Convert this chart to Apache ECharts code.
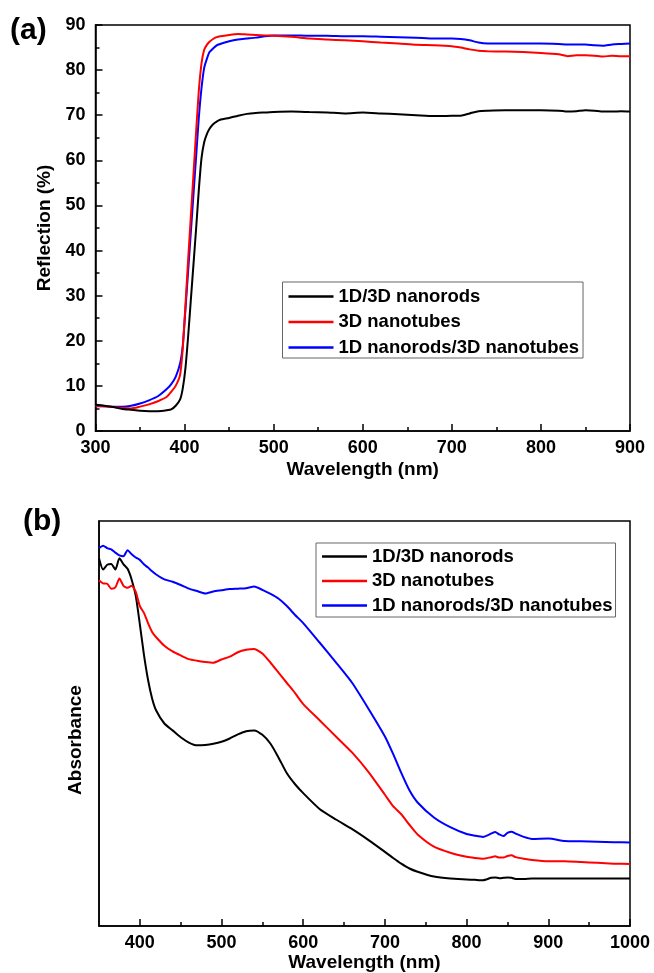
<!DOCTYPE html>
<html>
<head>
<meta charset="utf-8">
<script src="https://cdn.jsdelivr.net/npm/echarts@6/dist/echarts.min.js"></script>
<style>
html, body { margin: 0; padding: 0; background: #fff; }
#chart { width: 654px; height: 973px; }
</style>
</head>
<body>
<div id="chart"></div>
<script>
// ---------- (a) Reflection spectra ----------
const seriesNames = ['1D/3D nanorods', '3D nanotubes', '1D nanorods/3D nanotubes'];
const seriesColors = ['#000000', '#ff0000', '#0000ff'];

const reflWavelengths = [300,310,320,330,340,350,360,370,380,385,390,395,398,401,404,407,410,413,416,419,422,425,428,432,436,440,450,460,470,480,490,500,520,540,560,580,600,620,640,660,680,700,710,720,730,740,760,780,800,820,830,840,850,860,870,880,890,900];
const reflNanorods = [5.8,5.6,5.3,4.9,4.7,4.5,4.4,4.4,4.6,4.8,5.6,7.0,9.5,14,21,29,37,45,53.5,60.5,64,65.8,67,68,68.6,69,69.4,69.9,70.3,70.5,70.6,70.7,70.8,70.7,70.6,70.4,70.6,70.4,70.2,70.0,69.8,69.9,69.9,70.4,70.9,71.0,71.1,71.1,71.1,71.0,70.8,70.9,71.1,71.0,70.8,70.8,70.9,70.8];
const reflNanotubes = [5.6,5.5,5.3,5.1,5.0,5.4,5.9,6.6,7.6,8.7,10.0,12.5,18.5,28,38,47.5,57,66.5,75.5,81.5,84.5,85.6,86.3,86.9,87.3,87.5,87.8,88.0,87.9,87.8,87.7,87.6,87.4,87.0,86.8,86.6,86.4,86.1,85.9,85.6,85.5,85.3,85.0,84.6,84.3,84.2,84.1,84.0,83.8,83.5,83.1,83.3,83.3,83.2,83.0,83.2,83.1,83.1];
const reflHybrid = [5.5,5.5,5.4,5.4,5.6,6.1,6.8,7.7,9.3,10.4,12.0,15.0,19,27,35.5,44,52.5,61,69.5,76,80.5,82.5,84.0,84.8,85.5,85.8,86.4,86.8,87.0,87.2,87.5,87.7,87.7,87.6,87.6,87.5,87.5,87.4,87.3,87.2,87.0,87.0,86.9,86.6,86.1,85.9,85.9,85.9,85.9,85.8,85.7,85.7,85.7,85.5,85.4,85.7,85.8,85.9];

// ---------- (b) Absorbance spectra (arbitrary units) ----------
const absWavelengths = [350,355,360,365,370,375,380,385,390,395,400,405,410,415,420,430,440,450,460,470,480,490,500,510,520,530,540,550,560,570,580,590,600,620,640,660,680,700,710,720,730,740,760,780,800,810,820,830,835,840,845,850,855,860,870,880,900,920,940,960,980,1000];
const absNanorods = [90.8,88.0,89.2,89.4,88.0,90.8,89.3,88.2,85.5,81.5,74.5,67.0,60.8,56.2,53.2,50.0,48.3,46.6,45.3,44.6,44.7,45.0,45.5,46.3,47.3,48.1,48.3,47.2,45.0,41.5,37.7,35.0,32.8,28.9,26.3,23.9,21.2,18.3,16.8,15.4,14.2,13.4,12.2,11.7,11.5,11.4,11.3,11.9,12.0,11.8,11.9,12.0,11.9,11.6,11.6,11.7,11.7,11.7,11.7,11.7,11.7,11.7];
const absNanotubes = [85.4,84.6,84.5,83.3,83.6,85.8,84.0,83.5,84.0,82.5,79.0,77.3,74.8,72.6,71.3,69.2,67.8,66.8,65.9,65.5,65.2,65.0,65.8,66.5,67.6,68.2,68.4,67.3,65.0,62.5,60.0,57.5,54.8,50.8,46.8,42.8,38.0,32.4,29.6,27.6,25.0,22.6,19.6,18.1,17.1,16.8,16.6,17.0,17.2,16.9,16.9,17.3,17.5,17.0,16.6,16.3,16.0,16.0,15.8,15.6,15.4,15.3];
const absHybrid = [93.3,93.9,93.3,93.0,92.2,91.5,91.3,92.8,91.8,91.0,90.4,89.3,88.5,87.6,86.8,85.6,85.0,84.2,83.3,82.7,82.1,82.6,82.9,83.2,83.3,83.4,83.8,83.0,82.0,80.8,79.0,76.8,74.8,70.0,65.1,60.0,53.6,46.8,42.5,37.8,33.5,30.5,26.8,24.4,22.7,22.3,22.0,22.8,23.2,22.6,22.2,23.0,23.3,22.8,22.0,21.5,21.6,21.0,20.9,20.8,20.7,20.6];

// tick labels
const reflXTicks = [300,400,500,600,700,800,900];
const reflYTicks = [0,10,20,30,40,50,60,70,80,90];
const absXTicks = [400,500,600,700,800,900,1000];
const absXMinorTicks = [450,550,650,750,850,950];

const FONT = "'Liberation Sans', Arial, sans-serif";
const txt = (size) => ({ fontFamily: FONT, fontWeight: 'bold', fontSize: size, color: '#000' });
const plain = (v) => String(v);

function pairs(xs, ys) { return xs.map((x, i) => [x, ys[i]]); }

const reflSeries = [reflNanorods, reflNanotubes, reflHybrid];
const absSeries = [absNanorods, absNanotubes, absHybrid];

const series = [];
reflSeries.forEach((ys, i) => series.push({
  name: seriesNames[i], type: 'line', xAxisIndex: 0, yAxisIndex: 0,
  data: pairs(reflWavelengths, ys), showSymbol: false, smooth: 0.2,
  lineStyle: { width: 2, color: seriesColors[i] }, itemStyle: { color: seriesColors[i] },
  z: 3 - i
}));
absSeries.forEach((ys, i) => series.push({
  name: seriesNames[i], type: 'line', xAxisIndex: 1, yAxisIndex: 1,
  data: pairs(absWavelengths, ys), showSymbol: false, smooth: 0.2,
  lineStyle: { width: 2, color: seriesColors[i] }, itemStyle: { color: seriesColors[i] }
}));

const axisLine = { show: true, lineStyle: { color: '#000', width: 1.5 } };

const option = {
  animation: false,
  backgroundColor: '#fff',
  grid: [
    { left: 95.5, top: 25, width: 534.5, height: 406, show: true, borderColor: '#000', borderWidth: 1.5, containLabel: false },
    { left: 99, top: 521, width: 531, height: 405, show: true, borderColor: '#000', borderWidth: 1.5, containLabel: false }
  ],
  xAxis: [
    {
      gridIndex: 0, type: 'value', position: 'bottom', min: reflXTicks[0], max: reflXTicks[reflXTicks.length - 1], interval: 100,
      axisLine, splitLine: { show: false },
      axisTick: { show: true, inside: true, length: 7, lineStyle: { color: '#000', width: 1.5 } },
      minorTick: { show: true, splitNumber: 2, length: 4, lineStyle: { color: '#000', width: 1.5 } },
      axisLabel: Object.assign({ margin: 8, formatter: plain }, txt(18)),
      name: 'Wavelength (nm)', nameLocation: 'middle', nameGap: 29, nameTextStyle: txt(19)
    },
    {
      gridIndex: 1, type: 'value', position: 'bottom', min: 350, max: 1000,
      axisLine, splitLine: { show: false },
      axisTick: { show: true, inside: true, length: 7, customValues: absXTicks, lineStyle: { color: '#000', width: 1.5 } },
      axisLabel: Object.assign({ margin: 8, customValues: absXTicks, formatter: plain }, txt(18)),
      name: 'Wavelength (nm)', nameLocation: 'middle', nameGap: 27, nameTextStyle: txt(19)
    },
    {
      gridIndex: 1, type: 'value', position: 'bottom', offset: 0, min: 350, max: 1000,
      axisLine: { show: false }, splitLine: { show: false },
      axisTick: { show: true, inside: true, length: 4, customValues: absXMinorTicks, lineStyle: { color: '#000', width: 1.5 } },
      axisLabel: { show: false }
    }
  ],
  yAxis: [
    {
      gridIndex: 0, type: 'value', min: reflYTicks[0], max: reflYTicks[reflYTicks.length - 1], interval: 10,
      axisLine, splitLine: { show: false },
      axisTick: { show: true, inside: true, length: 7, lineStyle: { color: '#000', width: 1.5 } },
      minorTick: { show: true, splitNumber: 2, length: 4, lineStyle: { color: '#000', width: 1.5 } },
      axisLabel: Object.assign({ margin: 10, formatter: plain }, txt(18)),
      name: 'Reflection (%)', nameLocation: 'middle', nameGap: 32, nameTextStyle: txt(19)
    },
    {
      gridIndex: 1, type: 'value', min: 0, max: 100,
      axisLine, splitLine: { show: false },
      axisTick: { show: false }, axisLabel: { show: false },
      name: 'Absorbance', nameLocation: 'middle', nameGap: 14,
      nameTextStyle: Object.assign({ padding: [0, 33, 0, 0] }, txt(19))
    }
  ],
  legend: [
    {
      data: seriesNames, orient: 'vertical', left: 282.5, top: 282,
      icon: 'rect', itemWidth: 45, itemHeight: 2.5, itemGap: 6.5,
      padding: [5, 4, 1, 6], borderColor: '#666', borderWidth: 1, backgroundColor: '#fff',
      textStyle: Object.assign({ lineHeight: 18.5 }, txt(18.5)), selectedMode: false
    },
    {
      data: seriesNames, orient: 'vertical', left: 316, top: 543,
      icon: 'rect', itemWidth: 45, itemHeight: 2.5, itemGap: 5.5,
      padding: [4, 3, 2, 6], borderColor: '#666', borderWidth: 1, backgroundColor: '#fff',
      textStyle: Object.assign({ lineHeight: 18.5 }, txt(18.5)), selectedMode: false
    }
  ],
  graphic: [
    { type: 'text', left: 10, top: 16, style: { text: '(a)', font: "bold 30px 'Liberation Sans', Arial, sans-serif", fill: '#000' } },
    { type: 'text', left: 23, top: 507, style: { text: '(b)', font: "bold 30px 'Liberation Sans', Arial, sans-serif", fill: '#000' } }
  ],
  series
};

const chart = echarts.init(document.getElementById('chart'), null, { renderer: 'canvas' });
chart.setOption(option);
</script>
</body>
</html>
